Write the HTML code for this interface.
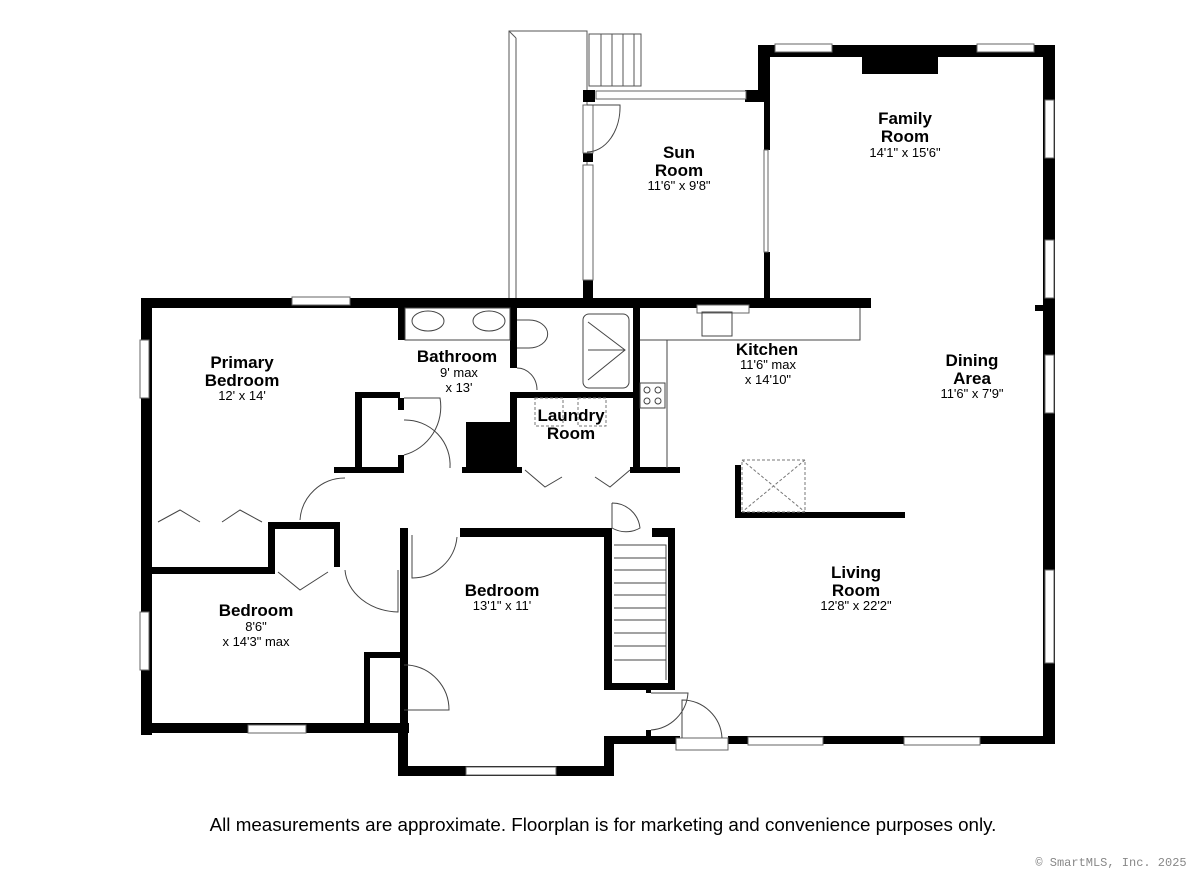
<!DOCTYPE html>
<html><head><meta charset="utf-8"><style>
html,body{margin:0;padding:0;background:#fff;}
svg{display:block;}
text{font-family:"Liberation Sans",Arial,sans-serif;fill:#000;text-anchor:middle;}
.t{font-weight:bold;font-size:17px;}
.d{font-size:13px;}
</style></head><body>
<svg width="1200" height="873" viewBox="0 0 1200 873" xmlns="http://www.w3.org/2000/svg">
<g fill="none" stroke="#555" stroke-width="1">
<rect x="509" y="31" width="78" height="268"/>
<line x1="516" y1="38" x2="516" y2="299"/>
<line x1="509" y1="31" x2="516" y2="38"/>
<rect x="589" y="34" width="52" height="52"/>
<line x1="601" y1="34" x2="601" y2="86"/><line x1="612" y1="34" x2="612" y2="86"/>
<line x1="623" y1="34" x2="623" y2="86"/><line x1="634" y1="34" x2="634" y2="86"/>
</g>
<g fill="#000">
<rect x="758" y="45" width="297" height="12"/>
<rect x="758" y="45" width="12" height="57"/>
<rect x="764" y="45" width="6" height="105"/>
<rect x="764" y="252" width="6" height="53"/>
<rect x="862" y="57" width="76" height="17"/>
<rect x="1043" y="45" width="12" height="699"/>
<rect x="1035" y="305" width="10" height="6"/>
<rect x="583" y="90" width="12" height="12"/>
<rect x="745" y="90" width="14" height="12"/>
<rect x="583" y="152" width="10" height="10"/>
<rect x="583" y="280" width="10" height="25"/>
<rect x="141" y="298" width="730" height="10"/>
<rect x="141" y="298" width="11" height="437"/>
<rect x="141" y="723" width="268" height="10"/>
<rect x="398" y="723" width="10" height="53"/>
<rect x="398" y="766" width="214" height="10"/>
<rect x="604" y="736" width="10" height="40"/>
<rect x="604" y="736" width="76" height="8"/>
<rect x="728" y="736" width="327" height="8"/>
<rect x="141" y="567" width="134" height="7"/>
<rect x="268" y="522" width="7" height="52"/>
<rect x="268" y="522" width="72" height="7"/>
<rect x="334" y="522" width="6" height="45"/>
<rect x="398" y="308" width="7" height="32"/>
<rect x="510" y="308" width="7" height="60"/>
<rect x="633" y="308" width="7" height="165"/>
<rect x="510" y="392" width="130" height="6"/>
<rect x="510" y="392" width="7" height="81"/>
<rect x="466" y="422" width="48" height="51"/>
<rect x="462" y="467" width="60" height="6"/>
<rect x="630" y="467" width="50" height="6"/>
<rect x="355" y="392" width="7" height="81"/>
<rect x="355" y="392" width="45" height="6"/>
<rect x="398" y="398" width="6" height="12"/>
<rect x="398" y="455" width="6" height="18"/>
<rect x="334" y="467" width="70" height="6"/>
<rect x="400" y="528" width="8" height="248"/>
<rect x="460" y="528" width="152" height="9"/>
<rect x="604" y="528" width="8" height="160"/>
<rect x="364" y="652" width="44" height="6"/>
<rect x="364" y="652" width="6" height="81"/>
<rect x="652" y="528" width="23" height="9"/>
<rect x="668" y="528" width="7" height="162"/>
<rect x="604" y="683" width="71" height="7"/>
<rect x="646" y="683" width="5" height="10"/>
<rect x="646" y="730" width="5" height="8"/>
<rect x="735" y="465" width="6" height="53"/>
<rect x="735" y="512" width="170" height="6"/>
</g>
<g fill="#fff" stroke="#666" stroke-width="1">
<rect x="775" y="44" width="57" height="8"/><rect x="977" y="44" width="57" height="8"/>
<rect x="596" y="91" width="150" height="8"/>
<rect x="583" y="105" width="10" height="48"/>
<rect x="583" y="165" width="10" height="115"/>
<rect x="764" y="150" width="4" height="102"/>
<rect x="1045" y="100" width="9" height="58"/><rect x="1045" y="240" width="9" height="58"/>
<rect x="1045" y="355" width="9" height="58"/><rect x="1045" y="570" width="9" height="93"/>
<rect x="292" y="297" width="58" height="8"/>
<rect x="697" y="305" width="52" height="8"/>
<rect x="140" y="340" width="9" height="58"/><rect x="140" y="612" width="9" height="58"/>
<rect x="248" y="725" width="58" height="8"/>
<rect x="466" y="767" width="90" height="8"/>
<rect x="748" y="737" width="75" height="8"/><rect x="904" y="737" width="76" height="8"/>
<rect x="676" y="738" width="52" height="12"/>
</g>
<g fill="none" stroke="#444" stroke-width="1">
<rect x="405" y="308" width="105" height="32"/>
<ellipse cx="428" cy="321" rx="16" ry="10"/><ellipse cx="489" cy="321" rx="16" ry="10"/>
<path d="M517 320 h12 a16 12 0 0 1 0 28 h-12"/>
<rect x="583" y="314" width="46" height="74" rx="6"/>
<path d="M588 322 L625 350 L588 380 M588 350 H625"/>
<path d="M640 340 H860 V308 M667 340 V468"/>
<rect x="702" y="312" width="30" height="24"/>
<rect x="640" y="383" width="25" height="25"/>
<circle cx="647" cy="390" r="3"/><circle cx="658" cy="390" r="3"/><circle cx="647" cy="401" r="3"/><circle cx="658" cy="401" r="3"/>
<path d="M587 105 H620 A33 45 0 0 1 587 152"/>
<path d="M517 368 A20 22 0 0 1 537 390"/>
<path d="M404 398 H440 A50 50 0 0 1 404 455"/>
<path d="M404 420 A45 45 0 0 1 450 468"/>
<path d="M300 520 A45 45 0 0 1 345 478"/>
<path d="M345 570 A55 45 0 0 0 398 612 V570"/>
<path d="M412 535 V578 A45 45 0 0 0 457 537"/>
<path d="M404 665 H408 A45 45 0 0 1 449 710 H404"/>
<path d="M612 503 V528 A28 28 0 0 0 640 528 A28 28 0 0 0 612 503"/>
<path d="M651 693 H688 A40 40 0 0 1 651 730"/>
<path d="M682 738 V700 A40 40 0 0 1 722 738"/>
<path d="M158 522 L180 510 L200 522 M222 522 L240 510 L262 522"/>
<path d="M278 572 L300 590 L328 572"/>
<path d="M525 470 L545 487 L562 477 M595 477 L610 487 L630 470"/>
<path d="M614 545 H666 V680"/>
<path d="M614 558 H666 M614 570 H666 M614 583 H666 M614 595 H666 M614 608 H666 M614 620 H666 M614 633 H666 M614 646 H666 M614 660 H666"/>
</g>
<g fill="none" stroke="#777" stroke-width="1" stroke-dasharray="3,2">
<rect x="535" y="398" width="28" height="28"/><rect x="578" y="398" width="28" height="28"/>
<rect x="742" y="460" width="63" height="52"/>
<path d="M742 460 L805 512 M805 460 L742 512"/>
</g>
<text class="t" x="905" y="124">Family</text><text class="t" x="905" y="142">Room</text>
<text class="d" x="905" y="157">14'1" x 15'6"</text>
<text class="t" x="679" y="158">Sun</text><text class="t" x="679" y="176">Room</text>
<text class="d" x="679" y="190">11'6" x 9'8"</text>
<text class="t" x="242" y="368">Primary</text><text class="t" x="242" y="386">Bedroom</text>
<text class="d" x="242" y="400">12' x 14'</text>
<text class="t" x="457" y="362">Bathroom</text>
<text class="d" x="459" y="377">9' max</text><text class="d" x="459" y="392">x 13'</text>
<text class="t" x="571" y="421">Laundry</text><text class="t" x="571" y="439">Room</text>
<text class="t" x="767" y="355">Kitchen</text>
<text class="d" x="768" y="369">11'6" max</text><text class="d" x="768" y="384">x 14'10"</text>
<text class="t" x="972" y="366">Dining</text><text class="t" x="972" y="384">Area</text>
<text class="d" x="972" y="398">11'6" x 7'9"</text>
<text class="t" x="856" y="578">Living</text><text class="t" x="856" y="596">Room</text>
<text class="d" x="856" y="610">12'8" x 22'2"</text>
<text class="t" x="502" y="596">Bedroom</text>
<text class="d" x="502" y="610">13'1" x 11'</text>
<text class="t" x="256" y="616">Bedroom</text>
<text class="d" x="256" y="631">8'6"</text><text class="d" x="256" y="646">x 14'3" max</text>
<text x="603" y="831" style="font-size:18.8px">All measurements are approximate. Floorplan is for marketing and convenience purposes only.</text>
<text x="1111" y="866" style="font-size:12px;fill:#888;font-family:'Liberation Mono',monospace">© SmartMLS, Inc. 2025</text>
</svg>
</body></html>
